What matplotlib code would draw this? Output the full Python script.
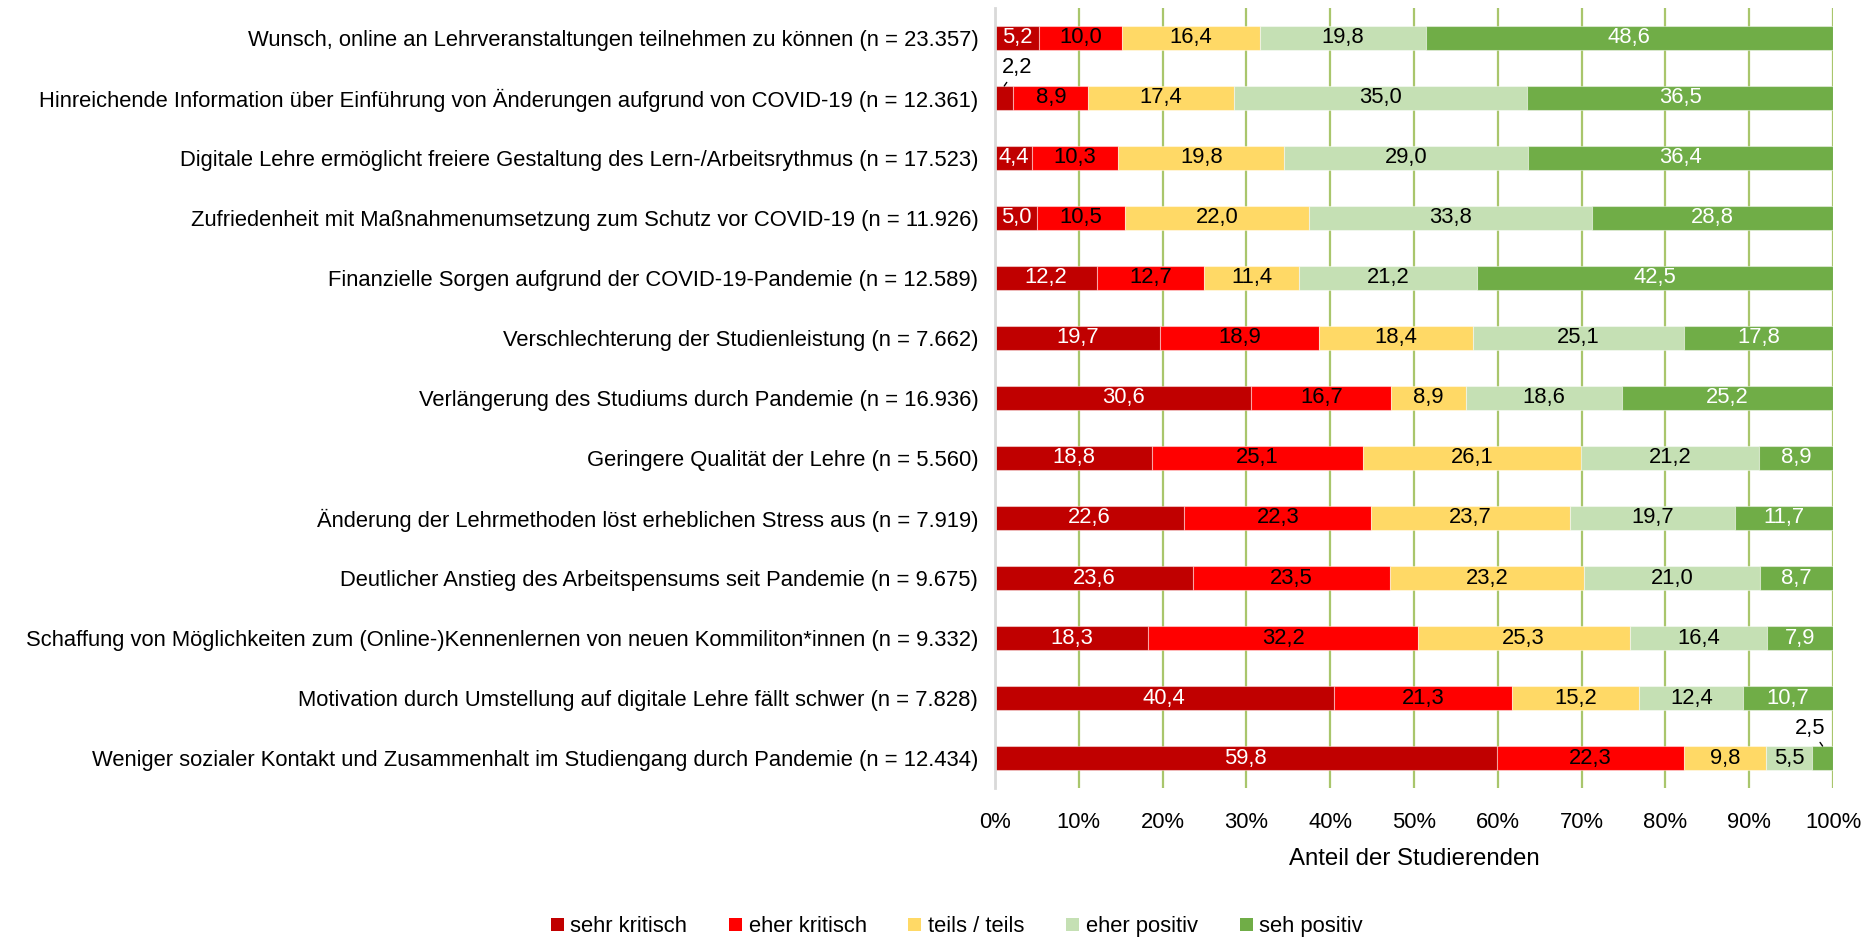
import numpy as np
import matplotlib
matplotlib.use("Agg")
import matplotlib.pyplot as plt
from matplotlib.patches import Patch

# ==========================================================
# Data
# ==========================================================

categories = [
    "Wunsch, online an Lehrveranstaltungen teilnehmen zu können (n = 23.357)",
    "Hinreichende Information über Einführung von Änderungen aufgrund von COVID-19 (n = 12.361)",
    "Digitale Lehre ermöglicht freiere Gestaltung des Lern-/Arbeitsrythmus (n = 17.523)",
    "Zufriedenheit mit Maßnahmenumsetzung zum Schutz vor COVID-19 (n = 11.926)",
    "Finanzielle Sorgen aufgrund der COVID-19-Pandemie (n = 12.589)",
    "Verschlechterung der Studienleistung (n = 7.662)",
    "Verlängerung des Studiums durch Pandemie (n = 16.936)",
    "Geringere Qualität der Lehre (n = 5.560)",
    "Änderung der Lehrmethoden löst erheblichen Stress aus (n = 7.919)",
    "Deutlicher Anstieg des Arbeitspensums seit Pandemie (n = 9.675)",
    "Schaffung von Möglichkeiten zum (Online-)Kennenlernen von neuen Kommiliton*innen (n = 9.332)",
    "Motivation durch Umstellung auf digitale Lehre fällt schwer (n = 7.828)",
    "Weniger sozialer Kontakt und Zusammenhalt im Studiengang durch Pandemie (n = 12.434)",
]

sehr_kritisch = [5.2, 2.2, 4.4, 5.0, 12.2, 19.7, 30.6, 18.8, 22.6, 23.6, 18.3, 40.4, 59.8]
eher_kritisch = [10.0, 8.9, 10.3, 10.5, 12.7, 18.9, 16.7, 25.1, 22.3, 23.5, 32.2, 21.3, 22.3]
teils_teils = [16.4, 17.4, 19.8, 22.0, 11.4, 18.4, 8.9, 26.1, 23.7, 23.2, 25.3, 15.2, 9.8]
eher_positiv = [19.8, 35.0, 29.0, 33.8, 21.2, 25.1, 18.6, 21.2, 19.7, 21.0, 16.4, 12.4, 5.5]
seh_positiv = [48.6, 36.5, 36.4, 28.8, 42.5, 17.8, 25.2, 8.9, 11.7, 8.7, 7.9, 10.7, 2.5]

series_names = ["sehr kritisch", "eher kritisch", "teils / teils", "eher positiv", "seh positiv"]
series_colors = ["#C00000", "#FF0000", "#FFD966", "#C5E0B4", "#70AD47"]
text_colors = ["white", "black", "black", "black", "white"]

# ==========================================================
# Figure
# ==========================================================

plt.rcParams["font.family"] = ["Liberation Sans", "DejaVu Sans"]
FS = 15.8

values = np.array([sehr_kritisch, eher_kritisch, teils_teils, eher_positiv, seh_positiv])
shares = values / values.sum(axis=0) * 100

fig = plt.figure(figsize=(18.76, 9.38), dpi=100)
ax = fig.add_axes([0.5304, 0.1599, 0.4467, 0.8316])

y = np.arange(len(categories))
left = np.zeros(len(categories))

for i in range(len(series_names)):
    ax.barh(
        y,
        shares[i],
        left=left,
        height=0.4,
        color=series_colors[i],
        edgecolor=(1, 1, 1, 0.45),
        linewidth=0.8,
        label=series_names[i],
        zorder=3
    )
    for j in range(len(categories)):
        label = f"{values[i, j]:.1f}".replace(".", ",")
        center = left[j] + shares[i, j] / 2
        if values[i, j] < 3:
            # small segments get a callout above the bar
            ax.annotate(
                label,
                xy=(center, j - 0.2),
                xytext=(center + 1.5 if j < 5 else center - 1.5, j - 0.5),
                ha="center",
                va="center",
                fontsize=FS,
                color="black",
                arrowprops=dict(arrowstyle="-", color="black", lw=1,
                                shrinkA=1, shrinkB=0),
                zorder=5
            )
        else:
            ax.text(center, j, label, ha="center", va="center",
                    fontsize=FS, color=text_colors[i], zorder=4)
    left += shares[i]

# ==========================================================
# Axes styling
# ==========================================================

ax.set_xlim(0, 100)
ax.set_ylim(len(categories) - 0.5, -0.5)
ax.set_yticks(y)
ax.set_yticklabels(categories, fontsize=FS)
ax.set_xticks(np.arange(0, 101, 10))
ax.set_xticklabels([f"{t}%" for t in range(0, 101, 10)], fontsize=FS)
ax.tick_params(axis="y", length=0, pad=12)
ax.tick_params(axis="x", length=0, pad=17)

ax.grid(axis="x", color="#A9C66C", linewidth=1.6, zorder=0)
ax.set_axisbelow(True)

for side in ["top", "right", "bottom"]:
    ax.spines[side].set_visible(False)
ax.spines["left"].set_color("#D9D9D9")
ax.spines["left"].set_linewidth(2)
ax.spines["left"].set_zorder(4)

ax.set_xlabel("Anteil der Studierenden", fontsize=FS + 1.5, labelpad=11)

handles = [Patch(facecolor=c, edgecolor="none") for c in series_colors]
fig.legend(
    handles,
    series_names,
    loc="center",
    bbox_to_anchor=(0.51, 0.012),
    ncol=5,
    frameon=False,
    fontsize=FS,
    handlelength=0.6,
    handleheight=0.6,
    handletextpad=0.3,
    columnspacing=1.9
)

fig.savefig("out.png", dpi=100)
